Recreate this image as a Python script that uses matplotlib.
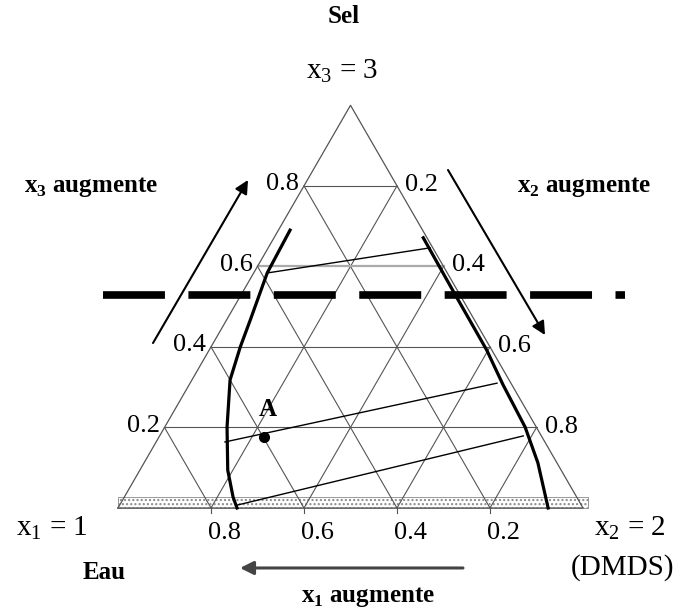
import numpy as np
import matplotlib

matplotlib.use("Agg")
import matplotlib.pyplot as plt

plt.rcParams["font.family"] = ["Liberation Serif", "DejaVu Serif"]
plt.rcParams["mathtext.fontset"] = "custom"
plt.rcParams["mathtext.rm"] = "Liberation Serif"
plt.rcParams["mathtext.bf"] = "Liberation Serif:bold"
plt.rcParams["lines.scale_dashes"] = False

# ternary data (x2 = DMDS, x3 = sel; x1 = eau = 1 - x2 - x3)
grid_levels = [0.2, 0.4, 0.6, 0.8]
left_labels = ["0.2", "0.4", "0.6", "0.8"]      # x3 on the left edge
right_labels = ["0.8", "0.6", "0.4", "0.2"]     # x2 on the right edge (by height)
bottom_labels = ["0.8", "0.6", "0.4", "0.2"]    # x1 along the base

# binodal curves
left_x2 = [0.256, 0.234, 0.189, 0.134, 0.082, 0.063, 0.051, 0.029, 0.025]
left_x3 = [0.000, 0.027, 0.094, 0.201, 0.318, 0.400, 0.467, 0.584, 0.690]
right_x2 = [0.925, 0.847, 0.775, 0.675, 0.597, 0.459, 0.321]
right_x3 = [0.000, 0.112, 0.201, 0.306, 0.392, 0.531, 0.671]

# tie lines: (x2_left, x3_left, x2_right, x3_right)
tie_x2_a = [0.031, 0.148, 0.252]
tie_x3_a = [0.584, 0.164, 0.007]
tie_x2_b = [0.348, 0.660, 0.782]
tie_x3_b = [0.646, 0.310, 0.179]

point_a_x2, point_a_x3 = 0.226, 0.176
dash_x3 = 0.529

H = np.sqrt(3) / 2


def cart(x2, x3):
    x2 = np.asarray(x2, dtype=float)
    x3 = np.asarray(x3, dtype=float)
    return x2 + 0.5 * x3, H * x3


fig = plt.figure(figsize=(6.78, 6.12), dpi=100)
ax = fig.add_axes([0, 0, 1, 1])
ax.set_xlim(-118 / 465, 560 / 465)
ax.set_ylim(-104 / 465, 508 / 465)
ax.axis("off")

# stippled band along the base
ax.fill([0, 1.01, 1.01, 0], [0, 0, 0.024, 0.024], facecolor="white",
        edgecolor="#888888", hatch="....", lw=0.6, zorder=1)

# grid
gc = "#555555"
for v in grid_levels:
    hc, hlw = ("#aaaaaa", 1.6) if v == 0.6 else (gc, 0.8)
    ax.plot(*cart([0, 1 - v], [v, v]), color=hc, lw=hlw, zorder=2)
    ax.plot(*cart([v, v], [0, 1 - v]), color=gc, lw=0.8, zorder=2)
    ax.plot(*cart([0, 1 - v], [1 - v, 0]), color=gc, lw=0.8, zorder=2)
    bx, _ = cart(1 - v, 0)
    ax.plot([bx, bx], [0, -0.011], color=gc, lw=0.8)
ax.plot(*cart([0, 1, 0, 0], [0, 0, 1, 0]), color=gc, lw=0.9, zorder=2)

# tick labels
for v, lab in zip(grid_levels, left_labels):
    x, y = cart(0, v)
    ax.text(x - 0.01, y + 0.004, lab, ha="right", va="center", fontsize=19)
for v, lab in zip(grid_levels, right_labels):
    x, y = cart(1 - v, v)
    ax.text(x + 0.018, y + 0.002, lab, ha="left", va="center", fontsize=19)
for v, lab in zip(grid_levels, bottom_labels):
    x, _ = cart(v, 0)
    ax.text(x + 0.028, -0.054, lab, ha="center", va="center", fontsize=19)

# binodal curves and tie lines
ax.plot(*cart(left_x2, left_x3), color="black", lw=2.3, zorder=4)
ax.plot(*cart(right_x2, right_x3), color="black", lw=2.3, zorder=4)
for a2, a3, b2, b3 in zip(tie_x2_a, tie_x3_a, tie_x2_b, tie_x3_b):
    ax.plot(*cart([a2, b2], [a3, b3]), color="black", lw=1.0, zorder=3)

# point A
ax.plot(*cart([point_a_x2], [point_a_x3]), "o", color="black", ms=7, zorder=5)
ax.text(0.323, 0.211, "A", fontsize=18, fontweight="bold", ha="center", va="center")

# thick dashed line
_, dy = cart(0, dash_x3)
ax.plot([-0.032, 1.090], [dy, dy], color="black", lw=5.5,
        linestyle=(0, (44.6, 16.9)), solid_capstyle="butt",
        dash_capstyle="butt", zorder=6)

# arrows
arr = dict(arrowstyle="-|>", color="black", lw=1.5, mutation_scale=20,
           shrinkA=0, shrinkB=0)
ax.annotate("", xy=(0.2796, 0.7054), xytext=(0.0753, 0.3548), arrowprops=arr)
ax.annotate("", xy=(0.9183, 0.372), xytext=(0.7097, 0.7269), arrowprops=arr)
ax.annotate("", xy=(0.2624, -0.129), xytext=(0.7419, -0.129),
            arrowprops=dict(arr, color="#444444", lw=2.2))

# labels
ax.text(0.486, 1.056, "Sel", fontsize=18, fontweight="bold", ha="center", va="center")
ax.text(0.482, 0.940, r"$\mathrm{x}_3$ = 3", fontsize=21, ha="center", va="center")
ax.text(-0.058, 0.690, r"$\mathbf{x}_\mathbf{3}$ augmente", fontsize=18,
        fontweight="bold", ha="center", va="center")
ax.text(1.002, 0.690, r"$\mathbf{x}_\mathbf{2}$ augmente", fontsize=18,
        fontweight="bold", ha="center", va="center")
ax.text(-0.142, -0.043, r"$\mathrm{x}_1$ = 1", fontsize=21, ha="center", va="center")
ax.text(1.101, -0.043, r"$\mathrm{x}_2$ = 2", fontsize=21, ha="center", va="center")
ax.text(-0.030, -0.138, "Eau", fontsize=18, fontweight="bold", ha="center", va="center")
ax.text(1.084, -0.129, "(DMDS)", fontsize=21, ha="center", va="center")
ax.text(0.538, -0.191, r"$\mathbf{x}_\mathbf{1}$ augmente", fontsize=18,
        fontweight="bold", ha="center", va="center")

fig.savefig("out.png", dpi=100, facecolor="white")
